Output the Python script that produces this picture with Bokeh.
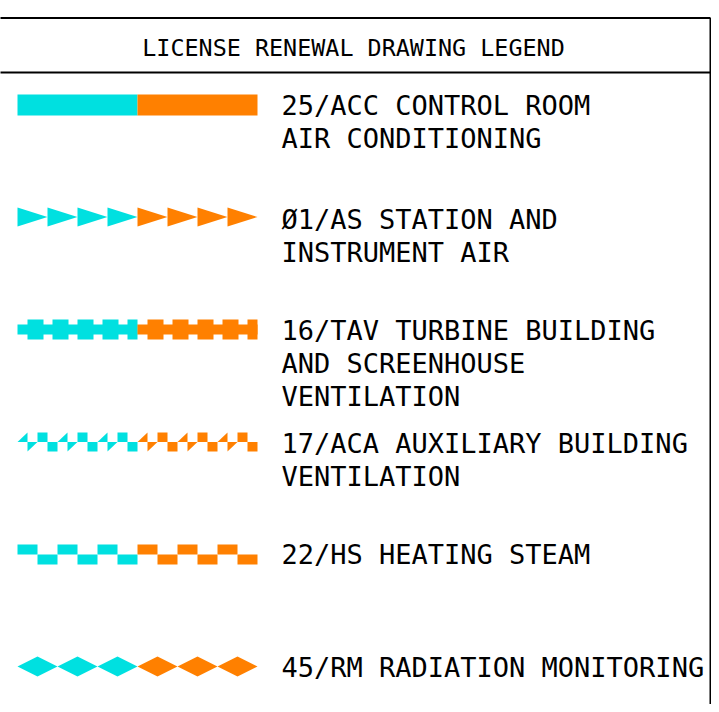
from bokeh.plotting import figure
from bokeh.models import Range1d
from bokeh.core.properties import value
from bokeh.embed import file_html
from bokeh.resources import INLINE

# ---- data ----
title = "LICENSE RENEWAL DRAWING LEGEND"
system_codes = ["25/ACC", "Ø1/AS", "16/TAV", "17/ACA", "22/HS", "45/RM"]
label_lines = [
    ["25/ACC CONTROL ROOM", "AIR CONDITIONING"],
    ["Ø1/AS STATION AND", "INSTRUMENT AIR"],
    ["16/TAV TURBINE BUILDING", "AND SCREENHOUSE", "VENTILATION"],
    ["17/ACA AUXILIARY BUILDING", "VENTILATION"],
    ["22/HS HEATING STEAM"],
    ["45/RM RADIATION MONITORING"],
]
line_patterns = ["solid", "arrow", "chain", "zigzag", "step", "diamond"]
pattern_colors = ["#00E0E0", "#FF8000"]  # first half / second half of each symbol

# ---- layout (pixel coordinates) ----
W, H = 711, 704
row_center = [104.5, 216.5, 329, 441.5, 554, 666]
first_baseline = [105, 219, 330, 443, 554, 667]
line_step = 33
sym_left, sym_half = 17, 120
text_x = 281
mono = "DejaVu Sans Mono"

p = figure(width=W, height=H, x_range=Range1d(0, W), y_range=Range1d(H, 0),
           output_backend="svg", toolbar_location=None, x_axis_type=None, y_axis_type=None,
           min_border=0)
p.grid.visible = False
p.outline_line_color = None
p.background_fill_color = "white"
p.border_fill_color = "white"

# frame
p.segment(x0=[-5, -5, 710], y0=[17.5, 72, 17.5], x1=[710, 710, 710], y1=[17.5, 72, 720],
          line_color="black", line_width=2)

p.text(x=[353], y=[47.5], text=[title], text_font=value(mono), text_font_size=value("23.4px"),
       text_align="center", text_baseline="alphabetic", text_color="black")

for i, (lines, pat) in enumerate(zip(label_lines, line_patterns)):
    ys = [first_baseline[i] + k * line_step for k in range(len(lines))]
    p.text(x=[text_x] * len(lines), y=ys, text=lines, text_font=value(mono),
           text_font_size=value("27px"), text_align="left", text_baseline="alphabetic",
           text_color="black")
    cy = row_center[i]
    for h, col in enumerate(pattern_colors):
        s = sym_left + h * sym_half
        e = s + sym_half
        if pat == "solid":
            p.quad(left=[s], right=[e], top=[cy - 10.5], bottom=[cy + 10.5], color=col, line_color=None)
        elif pat == "arrow":
            xs = [[s + 30 * k, s + 30 * k, s + 30 * k + 30] for k in range(4)]
            yv = [[cy - 9.5, cy + 9.5, cy] for k in range(4)]
            p.patches(xs=xs, ys=yv, color=col, line_color=None)
        elif pat == "chain":
            p.quad(left=[s], right=[e], top=[cy - 5], bottom=[cy + 5], color=col, line_color=None)
            lefts = [s + 10 + 25 * k for k in range(5)]
            rights = [min(l + 16, e) for l in lefts]
            p.quad(left=lefts, right=rights, top=[cy - 10] * 5, bottom=[cy + 10] * 5,
                   color=col, line_color=None)
        elif pat == "zigzag":
            txs, tys, ql, qr, qt, qb = [], [], [], [], [], []
            for k in range(3):
                a = s + 40 * k
                txs += [[a, a + 10, a + 10], [a + 10, a + 20, a + 10]]
                tys += [[cy, cy, cy - 9.5], [cy, cy, cy + 9.5]]
                ql += [a + 20, a + 30]
                qr += [a + 30, a + 40]
                qt += [cy - 9.5, cy]
                qb += [cy, cy + 9.5]
            p.patches(xs=txs, ys=tys, color=col, line_color=None)
            p.quad(left=ql, right=qr, top=qt, bottom=qb, color=col, line_color=None)
        elif pat == "step":
            lefts = [s + 20 * k for k in range(6)]
            tops = [cy - 10 if k % 2 == 0 else cy for k in range(6)]
            p.quad(left=lefts, right=[l + 20 for l in lefts], top=tops,
                   bottom=[t + 10 for t in tops], color=col, line_color=None)
        elif pat == "diamond":
            xs = [[s + 40 * k, s + 40 * k + 20, s + 40 * k + 40, s + 40 * k + 20] for k in range(3)]
            yv = [[cy, cy - 10, cy, cy + 10] for k in range(3)]
            p.patches(xs=xs, ys=yv, color=col, line_color=None)

open("out.html", "w").write(file_html(p, INLINE))
